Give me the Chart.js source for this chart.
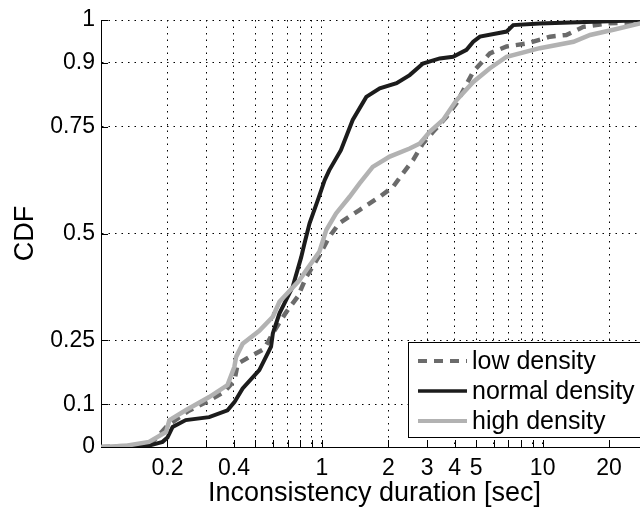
<!DOCTYPE html>
<html>
<head>
<meta charset="utf-8">
<script src="https://cdn.jsdelivr.net/npm/chart.js@4/dist/chart.umd.min.js"></script>
<style>
html, body { margin: 0; padding: 0; overflow: hidden; background: #fff; }
#wrap { width: 648px; height: 512px; position: relative; }
</style>
</head>
<body>
<div id="wrap"><canvas id="cdfChart"></canvas></div>
<script>
// CDF curves (x = duration in sec, y = CDF)
const lowX = [0.1, 0.14, 0.17, 0.2, 0.25, 0.309, 0.362, 0.402, 0.416, 0.47, 0.549, 0.599, 0.69, 0.778, 0.85, 0.976, 1.08, 1.2, 1.48, 1.83, 2.1, 2.33, 2.59, 2.87, 3.19, 3.67, 4.07, 4.85, 5.77, 6.87, 8.48, 10.8, 12.8, 15.3, 19.5, 30];
const lowY = [0, 0.003, 0.01, 0.05, 0.085, 0.109, 0.129, 0.156, 0.195, 0.211, 0.23, 0.266, 0.316, 0.352, 0.398, 0.449, 0.492, 0.524, 0.555, 0.586, 0.609, 0.641, 0.672, 0.711, 0.738, 0.773, 0.805, 0.879, 0.922, 0.938, 0.945, 0.961, 0.965, 0.984, 0.992, 0.995];

const normalX = [0.13, 0.15, 0.17, 0.19, 0.2, 0.211, 0.242, 0.309, 0.374, 0.402, 0.438, 0.521, 0.589, 0.6, 0.643, 0.738, 0.806, 0.835, 0.88, 0.959, 1.03, 1.08, 1.22, 1.38, 1.59, 1.83, 2.18, 2.5, 2.87, 3.42, 3.93, 4.52, 4.85, 5.2, 6.87, 7.36, 9.7, 30];
const normalY = [0, 0, 0.005, 0.012, 0.022, 0.047, 0.063, 0.07, 0.086, 0.105, 0.137, 0.18, 0.235, 0.266, 0.313, 0.375, 0.444, 0.477, 0.524, 0.578, 0.625, 0.648, 0.695, 0.766, 0.82, 0.84, 0.852, 0.871, 0.898, 0.91, 0.914, 0.93, 0.949, 0.961, 0.973, 0.988, 0.992, 1.0];

const highX = [0.1, 0.13, 0.165, 0.197, 0.204, 0.242, 0.309, 0.374, 0.402, 0.409, 0.438, 0.521, 0.6, 0.643, 0.79, 0.85, 0.976, 1.047, 1.16, 1.336, 1.48, 1.7, 2.03, 2.5, 2.78, 3.08, 3.54, 4.07, 4.85, 5.77, 6.87, 9.7, 13.8, 16.4, 20.9, 27.7, 30];
const highY = [0, 0.003, 0.012, 0.035, 0.063, 0.086, 0.117, 0.145, 0.188, 0.211, 0.242, 0.272, 0.305, 0.34, 0.39, 0.414, 0.458, 0.508, 0.547, 0.586, 0.617, 0.656, 0.68, 0.699, 0.711, 0.738, 0.766, 0.812, 0.855, 0.887, 0.914, 0.934, 0.949, 0.965, 0.977, 0.992, 0.995];

const seriesNames = ['low density', 'normal density', 'high density'];
const gridX = [0.2, 0.3, 0.4, 0.5, 0.6, 0.7, 0.8, 0.9, 1, 2, 3, 4, 5, 6, 7, 8, 9, 10, 20];
const labelX = [0.2, 0.4, 1, 2, 3, 4, 5, 10, 20];
const tickY = [0, 0.1, 0.25, 0.5, 0.75, 0.9, 1];

const FONT = '"Liberation Sans", Arial, Helvetica, sans-serif';
const pts = (xs, ys) => xs.map((x, i) => ({ x, y: ys[i] }));

const styles = [
    { color: '#6b6b6b', width: 4.5, dash: [9, 7] },
    { color: '#1c1c1c', width: 4, dash: [] },
    { color: '#b2b2b2', width: 4.5, dash: [] }
];

// inward tick marks and the legend box
const extras = {
    id: 'extras',
    afterDraw(chart) {
        const { ctx, chartArea: a, scales: { x, y } } = chart;
        ctx.save();
        ctx.strokeStyle = '#000';
        ctx.lineWidth = 1;
        ctx.beginPath();
        gridX.forEach(v => {
            const px = Math.round(x.getPixelForValue(v)) + 0.5;
            ctx.moveTo(px, a.bottom); ctx.lineTo(px, a.bottom - 7);
        });
        tickY.forEach(v => {
            const py = Math.round(y.getPixelForValue(v)) + 0.5;
            ctx.moveTo(a.left, py); ctx.lineTo(a.left + 7, py);
        });
        ctx.stroke();

        // legend
        const lx = 408.5, ly = 342.5, lh = 95;
        ctx.fillStyle = '#fff';
        ctx.fillRect(lx, ly, 260, lh);
        ctx.strokeRect(lx, ly, 260, lh);
        ctx.font = '25px ' + FONT;
        ctx.textBaseline = 'middle';
        ctx.textAlign = 'left';
        seriesNames.forEach((name, i) => {
            const s = styles[i];
            const yy = 361 + i * 30;
            ctx.strokeStyle = s.color;
            ctx.lineWidth = s.width - 0.5;
            ctx.setLineDash(s.dash);
            ctx.beginPath();
            ctx.moveTo(418, yy); ctx.lineTo(467, yy);
            ctx.stroke();
            ctx.setLineDash([]);
            ctx.fillStyle = '#000';
            ctx.fillText(name, 472, yy + 1);
        });
        ctx.restore();
    }
};

const makeSet = (i, xs, ys, order) => ({
    label: seriesNames[i],
    data: pts(xs, ys),
    borderColor: styles[i].color,
    borderWidth: styles[i].width,
    borderDash: styles[i].dash,
    borderCapStyle: 'butt',
    pointRadius: 0,
    tension: 0,
    fill: false,
    order
});

new Chart(document.getElementById('cdfChart'), {
    type: 'line',
    data: {
        datasets: [
            makeSet(0, lowX, lowY, 2),
            makeSet(1, normalX, normalY, 1),
            makeSet(2, highX, highY, 0)
        ]
    },
    options: {
        responsive: true,
        maintainAspectRatio: false,
        animation: false,
        layout: { padding: { top: 20, left: 0, right: 0, bottom: 0 } },
        plugins: { legend: { display: false }, tooltip: { enabled: false } },
        scales: {
            x: {
                type: 'logarithmic',
                min: 0.1,
                max: 30,
                afterBuildTicks: s => { s.ticks = gridX.map(v => ({ value: v })); },
                afterFit: s => { s.height = 65; },
                ticks: {
                    autoSkip: false,
                    maxRotation: 0,
                    padding: 8,
                    color: '#000',
                    font: { family: FONT, size: 23 },
                    callback: v => labelX.includes(v) ? String(v) : ''
                },
                grid: { color: '#000', lineWidth: 1, drawTicks: false },
                border: { display: true, color: '#000', width: 1, dash: [1.5, 5] },
                title: {
                    display: true,
                    text: 'Inconsistency duration [sec]',
                    color: '#000',
                    font: { family: FONT, size: 27 },
                    padding: { top: 0, bottom: 2 }
                }
            },
            y: {
                min: 0,
                max: 1,
                afterBuildTicks: s => { s.ticks = tickY.map(v => ({ value: v })); },
                afterFit: s => { s.width = 101; },
                ticks: {
                    padding: 6,
                    color: '#000',
                    font: { family: FONT, size: 23 },
                    callback: v => String(v)
                },
                grid: { color: '#000', lineWidth: 1, drawTicks: false },
                border: { display: true, color: '#000', width: 1, dash: [1.5, 5] },
                title: {
                    display: true,
                    text: 'CDF',
                    color: '#000',
                    font: { family: FONT, size: 27 },
                    padding: { top: 9, bottom: 0 }
                }
            }
        }
    },
    plugins: [extras]
});
</script>
</body>
</html>
